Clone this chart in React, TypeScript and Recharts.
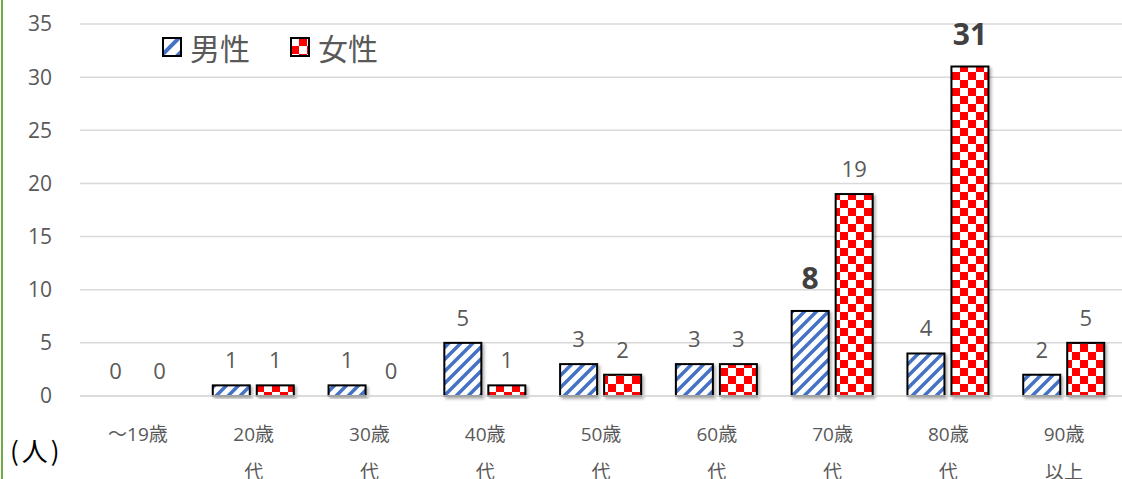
import { BarChart, Bar, XAxis, YAxis, CartesianGrid } from "recharts";

const categories = ["～19歳", "20歳代", "30歳代", "40歳代", "50歳代", "60歳代", "70歳代", "80歳代", "90歳以上"];
const maleCounts = [0, 1, 1, 5, 3, 3, 8, 4, 2];
const femaleCounts = [0, 1, 0, 1, 2, 3, 19, 31, 5];
// bars whose value label is drawn large and bold
const maleHighlight = [6];
const femaleHighlight = [7];
const yTicks = [0, 5, 10, 15, 20, 25, 30, 35];

const data = categories.map((name, i) => ({
  name,
  male: maleCounts[i],
  female: femaleCounts[i],
}));

const FONT = '"Open Sans", "Noto Sans CJK JP", sans-serif';
const CJK = '"Noto Sans CJK JP", sans-serif';
const GREY = "#595959";

const shape = (fill: string) => (p: any) => {
  if (!p.height || p.height <= 0) return <g />;
  return (
    <rect
      x={p.x}
      y={p.y}
      width={p.width}
      height={p.height}
      fill={fill}
      stroke="#000"
      strokeWidth={2}
      filter="url(#barShadow)"
    />
  );
};

const valueLabel = (highlight: number[]) => (p: any) => {
  const big = highlight.includes(p.index);
  return (
    <text
      key={`lbl-${p.index}`}
      x={p.x + p.width / 2}
      y={p.y - (big ? 33 : 26)}
      textAnchor="middle"
      dominantBaseline="central"
      fontFamily={FONT}
      fontSize={big ? 30 : 22}
      fontWeight={big ? 700 : 400}
      fill={big ? "#404040" : GREY}
    >
      {p.value}
    </text>
  );
};

const CategoryTick = (p: any) => {
  const label: string = p.payload.value;
  const cut = label.indexOf("歳") + 1;
  const first = label.slice(0, cut);
  const second = label.slice(cut);
  return (
    <text x={p.x} y={p.y} textAnchor="middle" fontFamily={FONT} fontSize={19} fill={GREY}>
      <tspan x={p.x} dy={37}>{first}</tspan>
      {second && <tspan x={p.x} dy={38}>{second}</tspan>}
    </text>
  );
};

const Swatch = ({ kind }: { kind: "m" | "f" }) => (
  <svg width={20} height={20} style={{ display: "block" }}>
    <defs>
      <pattern id={`lg-${kind}`} patternUnits="userSpaceOnUse" width={16} height={16} x={1} y={1}>
        <rect width={16} height={16} fill="#fff" />
        {kind === "m" ? (
          <path d="M-4,4 L4,-4 M0,16 L16,0 M12,20 L20,12" stroke="#4472c4" strokeWidth={4} />
        ) : (
          <>
            <rect x={8} y={0} width={8} height={8} fill="#ff0000" />
            <rect x={0} y={8} width={8} height={8} fill="#ff0000" />
          </>
        )}
      </pattern>
    </defs>
    <rect x={1} y={1} width={18} height={18} fill={`url(#lg-${kind})`} stroke="#000" strokeWidth={2} />
  </svg>
);

export default function App() {
  return (
    <div style={{ position: "absolute", left: 0, top: 0, width: 1122, height: 479, background: "#fff", fontFamily: FONT }}>
      <div style={{ position: "absolute", left: 1, top: 0, width: 2, height: 479, background: "#70ad47" }} />
      <BarChart
        width={1122}
        height={479}
        data={data}
        margin={{ top: 24, right: 0, left: 0, bottom: 0 }}
        barSize={37}
        barGap={7}
      >
        <defs>
          <pattern id="stripeBlue" patternUnits="userSpaceOnUse" width={12} height={12}>
            <rect width={12} height={12} fill="#fff" />
            <path d="M-3,3 L3,-3 M0,12 L12,0 M9,15 L15,9" stroke="#4472c4" strokeWidth={3.5} />
          </pattern>
          <pattern id="checkRed" patternUnits="userSpaceOnUse" width={16} height={16}>
            <rect width={16} height={16} fill="#fff" />
            <rect x={0} y={0} width={8} height={8} fill="#ff0000" />
            <rect x={8} y={8} width={8} height={8} fill="#ff0000" />
          </pattern>
          <filter id="barShadow" x="-20%" y="-20%" width="140%" height="140%">
            <feDropShadow dx={2} dy={2} stdDeviation={1.5} floodColor="#000" floodOpacity={0.3} />
          </filter>
        </defs>
        <CartesianGrid vertical={false} stroke="#d9d9d9" strokeWidth={1.5} />
        <XAxis
          dataKey="name"
          height={83}
          interval={0}
          tickLine={false}
          axisLine={{ stroke: "#d9d9d9", strokeWidth: 1.5 }}
          tick={<CategoryTick />}
        />
        <YAxis
          width={80}
          domain={[0, 35]}
          ticks={yTicks}
          tickLine={false}
          axisLine={false}
          tickMargin={22}
          tick={{ fill: GREY, fontSize: 21, fontFamily: FONT }}
        />
        <Bar
          dataKey="male"
          isAnimationActive={false}
          shape={shape("url(#stripeBlue)")}
          label={valueLabel(maleHighlight)}
        />
        <Bar
          dataKey="female"
          isAnimationActive={false}
          shape={shape("url(#checkRed)")}
          label={valueLabel(femaleHighlight)}
        />
      </BarChart>
      <div
        style={{
          position: "absolute",
          left: 162,
          top: 29,
          display: "flex",
          alignItems: "center",
          fontFamily: CJK,
          fontSize: 30,
          color: GREY,
          lineHeight: "36px",
        }}
      >
        <Swatch kind="m" />
        <span style={{ marginLeft: 8, marginRight: 40 }}>男性</span>
        <Swatch kind="f" />
        <span style={{ marginLeft: 8 }}>女性</span>
      </div>
      <div
        style={{
          position: "absolute",
          left: 10,
          top: 432,
          fontFamily: CJK,
          fontSize: 26,
          letterSpacing: 3,
          color: "#000",
          lineHeight: "36px",
        }}
      >
        (人)
      </div>
    </div>
  );
}
